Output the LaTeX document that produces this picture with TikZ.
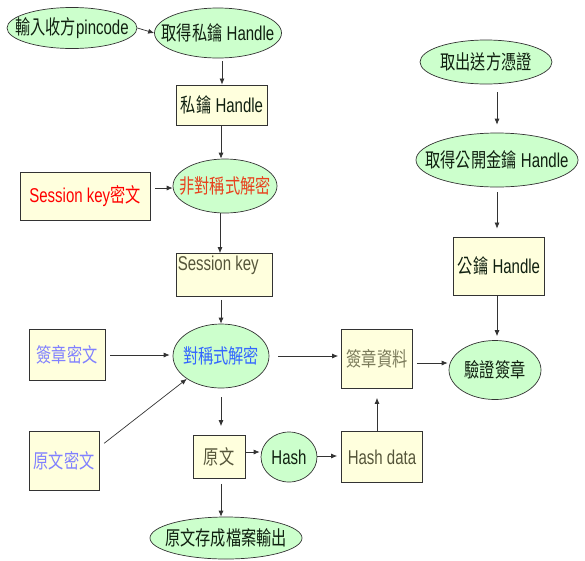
\documentclass[tikz,border=0pt]{standalone}
\usepackage{fontspec}
\setmainfont{Liberation Sans}[FakeStretch=0.75]
\newfontfamily\cjk{Noto Sans CJK TC}[FakeStretch=0.76]
\usetikzlibrary{shapes.geometric,arrows.meta,calc}
\definecolor{ellfill}{HTML}{CCFFCC}
\definecolor{boxfill}{HTML}{FFFFDD}
\definecolor{edge}{HTML}{333333}
\definecolor{txtdark}{HTML}{102010}
\definecolor{txtred}{HTML}{FF0000}
\definecolor{txtorange}{HTML}{E8401C}
\definecolor{txtlblue}{HTML}{8080FF}
\definecolor{txtblue}{HTML}{3366FF}
\definecolor{txtolive}{HTML}{7A7A5A}
\definecolor{txtolive2}{HTML}{55553A}
\newcommand{\zw}[1]{\makebox[0pt]{#1}}
\tikzset{
  every node/.style={font=\fontsize{20}{22}\selectfont, text=txtdark, inner sep=0pt},
  ell/.style={ellipse, draw=edge, line width=0.7pt, fill=ellfill},
  bx/.style={rectangle, draw=edge, line width=0.8pt, fill=boxfill},
  arr/.style={draw=edge, line width=0.7pt, -{Latex[length=6pt,width=5pt]}},
}
\begin{document}
\begin{tikzpicture}[x=1pt,y=-1pt]
\useasboundingbox (0,0) rectangle (585,560);
% left/middle column
\node[ell, minimum width=130, minimum height=41] (pin) at (72,28) {\zw{{\cjk 輸入收方}pincode}};
\node[ell, minimum width=127, minimum height=50] (getpriv) at (218,33) {\zw{{\cjk 取得私鑰} Handle}};
\node[bx, minimum width=91, minimum height=40] (priv) at (222,105) {{\cjk 私鑰} Handle};
\node[ell, minimum width=104, minimum height=54, text=txtorange] (asym) at (225,186) {\zw{\cjk 非對稱式解密}};
\node[bx, minimum width=130, minimum height=48, text=txtred] (skc) at (85,196) {Session key{\cjk 密文}};
\node[bx, minimum width=96, minimum height=43, text=txtolive2] (sk) at (224,275) {};
\node[anchor=north west, text=txtolive2] (sktxt) at ($(sk.north west)+(2,3)$) {Session key};
\node[bx, minimum width=76, minimum height=51, text=txtlblue] (sigc) at (67,355) {\cjk 簽章密文};
\node[bx, minimum width=70, minimum height=59, text=txtlblue] (plainc) at (64,461) {\cjk 原文密文};
\node[ell, minimum width=96, minimum height=64, text=txtblue] (sym) at (221,356) {\zw{\cjk 對稱式解密}};
\node[bx, minimum width=52, minimum height=43, text=txtolive2] (plain) at (219,457) {\cjk 原文};
\node[ell, minimum width=56, minimum height=50] (hash) at (289,457) {\zw{Hash}};
\node[bx, minimum width=81, minimum height=51, text=txtolive2] (hdata) at (382,457) {Hash data};
\node[bx, minimum width=71, minimum height=59, text=txtolive] (sigdata) at (377,359) {\cjk 簽章資料};
\node[ell, minimum width=152, minimum height=42] (save) at (226,538) {\zw{\cjk 原文存成檔案輸出}};
% right column
\node[ell, minimum width=132, minimum height=44] (cert) at (486,62) {\zw{\cjk 取出送方憑證}};
\node[ell, minimum width=162, minimum height=54] (getpub) at (497,160) {\zw{{\cjk 取得公開金鑰} Handle}};
\node[bx, minimum width=91, minimum height=58] (pub) at (499,266) {{\cjk 公鑰} Handle};
\node[ell, minimum width=92, minimum height=59] (verify) at (495,370) {\zw{\cjk 驗證簽章}};
% connectors
\draw[arr] (pin.east) -- (getpriv.west);
\draw[arr, shorten <=3pt] (getpriv.south -| priv.north) -- (priv.north);
\draw[arr] (priv.south -| 221,0) -- (asym.north -| 221,0);
\draw[arr, shorten <=5pt] (skc.east |- 0,188) -- (asym.west |- 0,188);
\draw[arr] (asym.south -| 220,0) -- (sk.north -| 220,0);
\draw[arr, shorten <=3pt] (sk.south -| 221,0) -- (sym.north -| 221,0);
\draw[arr, shorten <=5pt, shorten >=3pt] (sigc.east |- 0,355) -- (sym.west |- 0,355);
\draw[arr, shorten <=6pt] (plainc.east |- 0,447) -- (sym.south west);
\draw[arr, shorten <=9pt, shorten >=3pt] (sym.east |- 0,356) -- (sigdata.west |- 0,356);
\draw[arr, shorten <=9pt, shorten >=9pt] (sym.south -| 221,0) -- (plain.north -| 221,0);
\draw[arr, shorten <=5pt] (plain.south -| 221,0) -- (save.north -| 221,0);
\draw[arr, shorten >=1pt] (plain.east |- 0,452) -- (hash.west |- 0,452);
\draw[arr, shorten >=4pt] (hash.east |- 0,456) -- (hdata.west |- 0,456);
\draw[arr, shorten >=9pt] (hdata.north -| 377,0) -- (sigdata.south -| 377,0);
\draw[arr, shorten <=4pt, shorten >=1pt] (sigdata.east |- 0,363) -- (verify.west |- 0,363);
\draw[arr, shorten <=8pt, shorten >=8pt] (cert.south -| 497,0) -- (getpub.north -| 497,0);
\draw[arr, shorten <=5pt, shorten >=8pt] (getpub.south -| 497,0) -- (pub.north -| 497,0);
\draw[arr, shorten >=4pt] (pub.south -| 497,0) -- (verify.north -| 497,0);
\end{tikzpicture}
\end{document}
